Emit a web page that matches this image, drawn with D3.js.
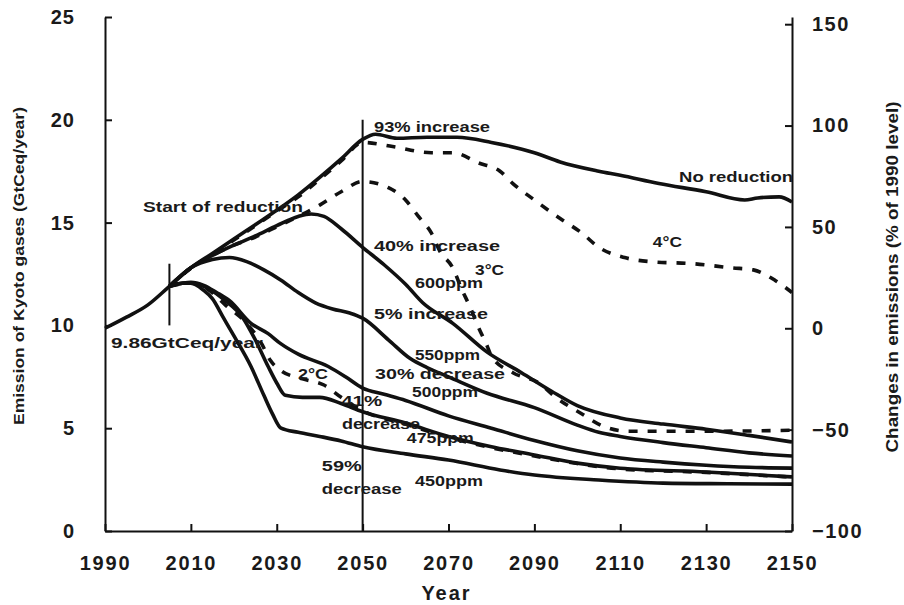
<!DOCTYPE html>
<html><head><meta charset="utf-8">
<script src="https://cdn.jsdelivr.net/npm/d3@7"></script>
<style>
html,body{margin:0;padding:0;background:#fff;}
svg{display:block;}
text{font-family:"Liberation Sans",Arial,sans-serif;fill:#1a1a1a;}
</style></head>
<body>
<script>
// ---- data (Year, GtCeq/year) ----
const xTicks = [1990, 2010, 2030, 2050, 2070, 2090, 2110, 2130, 2150];
const yTicks = [0, 5, 10, 15, 20, 25];
const rTicks = [-100, -50, 0, 50, 100, 150];
const base1990 = 9.86;

const noReduction = [[1990,9.86],[1995,10.4],[2000,11.0],[2005,11.9],[2010,12.8],[2015,13.5],[2020,14.2],[2025,14.9],[2030,15.6],[2035,16.35],[2040,17.2],[2045,18.1],[2050,19.05],[2053,19.3],[2058,19.1],[2065,19.15],[2072,19.15],[2080,18.9],[2090,18.4],[2096,17.95],[2105,17.5],[2110,17.3],[2119,16.9],[2130,16.5],[2139,16.1],[2142,16.2],[2147,16.25],[2150,16.0]];
const ppm600 = [[2005,11.9],[2010,12.8],[2015,13.4],[2020,13.9],[2025,14.35],[2030,14.85],[2035,15.3],[2038,15.42],[2041,15.3],[2045,14.7],[2050,13.8],[2055,12.95],[2060,12.0],[2064,11.1],[2071,10.1],[2079,8.7],[2087,7.7],[2094,6.8],[2100,6.1],[2110,5.5],[2120,5.2],[2130,4.95],[2140,4.65],[2150,4.33]];
const ppm550 = [[2005,11.9],[2010,12.8],[2015,13.2],[2019,13.3],[2023,13.1],[2027,12.7],[2031,12.2],[2035,11.6],[2039,11.1],[2043,10.8],[2047,10.6],[2050,10.35],[2056,9.3],[2061,8.4],[2065,7.95],[2070,7.5],[2079,6.7],[2090,6.0],[2100,5.15],[2105,4.8],[2110,4.6],[2120,4.3],[2130,4.05],[2140,3.8],[2150,3.65]];
const ppm500 = [[2005,11.9],[2008,12.05],[2010,12.1],[2013,11.95],[2016,11.6],[2019,11.2],[2024,10.1],[2028,9.6],[2031,9.1],[2035,8.6],[2042,8.0],[2046,7.5],[2050,6.95],[2055,6.65],[2060,6.35],[2070,5.6],[2080,5.0],[2090,4.4],[2100,3.9],[2110,3.55],[2120,3.35],[2130,3.2],[2140,3.1],[2150,3.06]];
const ppm475 = [[2005,11.9],[2008,12.05],[2010,12.05],[2014,11.8],[2018,11.2],[2022,10.4],[2025,9.3],[2028,8.0],[2030,7.2],[2032,6.6],[2036,6.5],[2040,6.5],[2045,6.2],[2050,5.8],[2060,5.25],[2070,4.6],[2080,4.1],[2090,3.7],[2100,3.3],[2110,3.05],[2130,2.87],[2150,2.63]];
const ppm450 = [[2005,11.9],[2008,12.05],[2010,12.05],[2013,11.7],[2015,11.3],[2017.5,10.4],[2020,9.5],[2024,8.0],[2027,6.6],[2029,5.7],[2031,5.0],[2035,4.8],[2040,4.6],[2045,4.38],[2050,4.1],[2060,3.75],[2070,3.45],[2082,2.97],[2090,2.72],[2105,2.48],[2120,2.33],[2135,2.3],[2150,2.28]];
const deg4 = [[2005,11.9],[2010,12.78],[2015,13.45],[2020,14.15],[2025,14.85],[2030,15.55],[2035,16.25],[2040,17.1],[2045,18.0],[2050,18.9],[2057,18.7],[2066,18.4],[2071,18.4],[2077,17.9],[2082,17.5],[2085,16.9],[2090,16.1],[2096,15.2],[2101,14.5],[2105,13.8],[2111,13.3],[2117,13.1],[2127,13.0],[2136,12.8],[2141,12.7],[2146,12.2],[2150,11.6]];
const deg3 = [[2005,11.9],[2010,12.8],[2015,13.4],[2020,13.9],[2025,14.3],[2030,14.8],[2035,15.3],[2040,15.85],[2045,16.5],[2050,17.0],[2056,16.7],[2060,16.1],[2063,15.3],[2066,14.5],[2068,13.6],[2071,12.8],[2073,11.8],[2075,10.9],[2077,9.9],[2079,9.0],[2080,8.5],[2085,7.7],[2091,7.2],[2095,6.5],[2101,5.7],[2106,5.1],[2112,4.85],[2130,4.85],[2150,4.9]];
const deg2 = [[2005,11.9],[2010,12.05],[2014,11.75],[2018,11.0],[2023,10.1],[2026.5,9.1],[2028.5,8.3],[2031,7.8],[2036,7.4],[2041,7.1],[2045,6.5],[2050,5.85],[2060,5.2],[2070,4.55],[2080,4.05],[2090,3.65],[2100,3.28],[2110,3.02],[2130,2.85],[2150,2.62]];

const solidSeries = [noReduction, ppm600, ppm550, ppm500, ppm475, ppm450];
const dashedSeries = [deg4, deg3, deg2];

// annotations: text, year, value (baseline-left anchor), target width
const labelText  = ["Start of reduction","9.86GtCeq/year","93% increase","40% increase","3°C","600ppm","5% increase","550ppm","30% decrease","500ppm","41%","decrease","475ppm","59%","decrease","450ppm","2°C","No reduction","4°C"];
const labelYear  = [1998.85,1991.4,2052.65,2052.65,2076.2,2062.2,2052.65,2062.2,2052.9,2061.5,2045.0,2045.2,2060.3,2040.5,2040.5,2062.2,2034.95,2123.7,2117.6];
const labelValue = [15.52,8.9,19.41,13.62,12.45,11.82,10.31,8.32,7.39,6.52,6.08,4.96,4.28,2.92,1.80,2.19,7.39,16.97,13.81];
const labelWidth = [160,152,116,126,29,68,114,65,130,66,41,78,67,40,80,68,30,114,29];

// ---- drawing ----
const W = 904, H = 605;
const svg = d3.select("body").append("svg").attr("width", W).attr("height", H);

const x = d3.scaleLinear().domain([1990, 2150]).range([105, 792]);
const y = d3.scaleLinear().domain([0, 25]).range([531, 17]);
const yR = d3.scaleLinear().domain([-100, (25 / base1990 - 1) * 100]).range([531, 17]);

const line = d3.line().x(d => x(d[0])).y(d => y(d[1])).curve(d3.curveMonotoneX);

const gCurves = svg.append("g").attr("fill", "none").attr("stroke", "#111");
gCurves.selectAll("path.dash").data(dashedSeries).join("path")
  .attr("class", "dash").attr("d", line)
  .attr("stroke-width", 3.6).attr("stroke-dasharray", "9,10");
gCurves.selectAll("path.solid").data(solidSeries).join("path")
  .attr("class", "solid").attr("d", line)
  .attr("stroke-width", 3.6).attr("stroke-linejoin", "round");

// axes
function styleAxis(g) {
  g.select(".domain").attr("stroke", "#111").attr("stroke-width", 2);
  g.selectAll(".tick line").attr("stroke", "#111").attr("stroke-width", 2);
  g.selectAll(".tick text").attr("font-size", 20).attr("font-weight", "bold").attr("fill", "#1a1a1a").attr("font-family", "'Liberation Sans',Arial,sans-serif");
}
const gx = svg.append("g").attr("transform", `translate(0,${y(0)})`)
  .call(d3.axisBottom(x).tickValues(xTicks).tickFormat(d3.format("d")).tickSize(-7).tickSizeOuter(0).tickPadding(25));
styleAxis(gx);
gx.selectAll(".tick text").attr("dy", "0.71em").attr("letter-spacing", "1.8px");

const gy = svg.append("g").attr("transform", `translate(${x(1990)},0)`)
  .call(d3.axisLeft(y).tickValues(yTicks).tickSize(-7).tickSizeOuter(0).tickPadding(30));
styleAxis(gy);
gy.selectAll(".tick text").attr("letter-spacing", "1px");

const gr = svg.append("g").attr("transform", `translate(${x(2150)},0)`)
  .call(d3.axisRight(yR).tickValues(rTicks).tickFormat(d => d < 0 ? "\u2212" + Math.abs(d) : d).tickSize(-7).tickSizeOuter(0).tickPadding(20));
styleAxis(gr);
gr.selectAll(".tick text").attr("letter-spacing", "1.5px");

// reference lines
svg.append("line").attr("x1", x(2050)).attr("x2", x(2050)).attr("y1", y(20)).attr("y2", y(0))
  .attr("stroke", "#111").attr("stroke-width", 2);
svg.append("line").attr("x1", x(2005)).attr("x2", x(2005)).attr("y1", y(13)).attr("y2", y(10.0))
  .attr("stroke", "#111").attr("stroke-width", 2);

// annotations
svg.append("g").selectAll("text").data(labelText).join("text")
  .attr("x", (d, i) => x(labelYear[i]))
  .attr("y", (d, i) => y(labelValue[i]))
  .attr("font-size", 14).attr("font-weight", "bold")
  .attr("textLength", (d, i) => labelWidth[i]).attr("lengthAdjust", "spacingAndGlyphs")
  .text(d => d);

// axis titles
svg.append("text").attr("transform", `translate(${x(2070) - 2},600)`)
  .attr("text-anchor", "middle").attr("font-size", 20).attr("font-weight", "bold")
  .attr("letter-spacing", "2px").text("Year");
svg.append("text").attr("transform", "translate(24,266) rotate(-90)")
  .attr("text-anchor", "middle").attr("font-size", 15).attr("font-weight", "bold")
  .attr("textLength", 318).attr("lengthAdjust", "spacingAndGlyphs")
  .text("Emission of Kyoto gases (GtCeq/year)");
svg.append("text").attr("transform", "translate(898,277) rotate(-90)")
  .attr("text-anchor", "middle").attr("font-size", 17).attr("font-weight", "bold")
  .attr("textLength", 351).attr("lengthAdjust", "spacingAndGlyphs")
  .text("Changes in emissions (% of 1990 level)");
</script>
</body></html>
